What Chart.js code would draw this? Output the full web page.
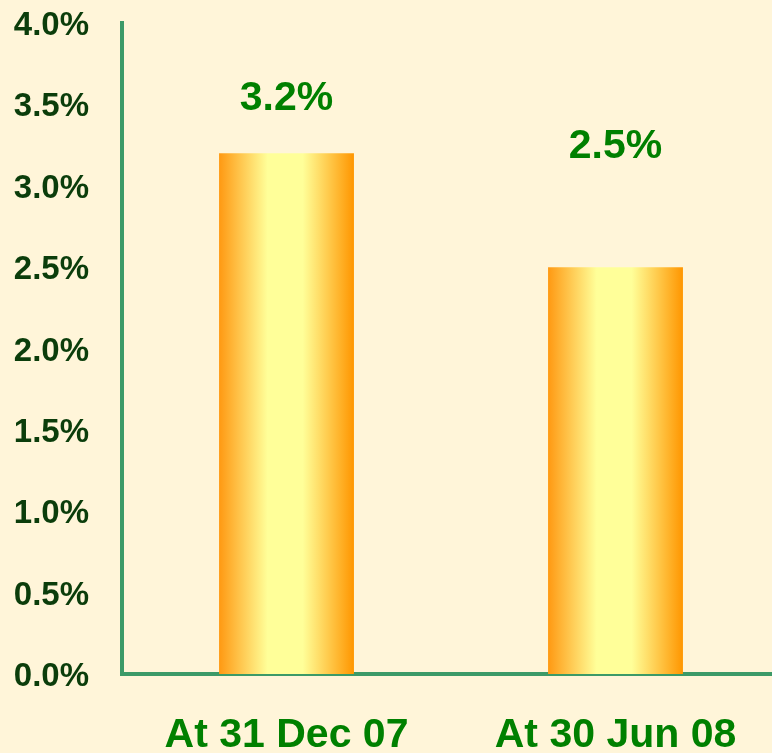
<!DOCTYPE html>
<html>
<head>
<meta charset="utf-8">
<script src="https://cdn.jsdelivr.net/npm/chart.js@4"></script>
<style>
  html, body { margin: 0; padding: 0; background: #fff5d9; overflow: hidden; }
  #wrap { width: 780px; height: 753px; }
</style>
</head>
<body>
<div id="wrap"><canvas id="ratioChart" width="780" height="753"></canvas></div>
<script>
// Chart values
const categories = ['At 31 Dec 07', 'At 30 Jun 08'];
const ratioValues = [3.2, 2.5];
const valueLabels = ['3.2%', '2.5%'];
const labelOffsets = [55, 120]; // distance of value label above bar top (px)

const GREEN_AXIS = '#3c9a68';
const BAR_PCT = 0.41;
const FONT = '"Liberation Sans", Arial, sans-serif';

// horizontal orange-yellow-orange gradient for each bar
const barGradient = (context) => {
    const chart = context.chart;
    const xScale = chart.scales.x;
    if (!xScale || !chart.chartArea) return '#ffcc55';
    const cx = xScale.getPixelForValue(context.dataIndex);
    const w = xScale.width / categories.length * BAR_PCT;
    const g = chart.ctx.createLinearGradient(cx - w / 2, 0, cx + w / 2, 0);
    g.addColorStop(0, '#ff9912');
    g.addColorStop(0.36, '#ffff99');
    g.addColorStop(0.62, '#ffff99');
    g.addColorStop(1, '#ff9600');
    return g;
};

// draws the green percentage labels above the bars
const valueLabelPlugin = {
    id: 'valueLabels',
    afterDatasetsDraw(chart) {
        const ctx = chart.ctx;
        const meta = chart.getDatasetMeta(0);
        ctx.save();
        ctx.font = 'bold 41px ' + FONT;
        ctx.fillStyle = '#008000';
        ctx.textAlign = 'center';
        ctx.textBaseline = 'middle';
        meta.data.forEach((bar, i) => {
            ctx.fillText(valueLabels[i], bar.x, bar.y - labelOffsets[i]);
        });
        ctx.restore();
    }
};

const chart = new Chart(document.getElementById('ratioChart'), {
    type: 'bar',
    data: {
        labels: categories,
        datasets: [{
            data: ratioValues,
            backgroundColor: barGradient,
            borderWidth: 0,
            barPercentage: BAR_PCT,
            categoryPercentage: 1
        }]
    },
    options: {
        responsive: false,
        animation: false,
        layout: { padding: { top: 23, right: 0, left: 0, bottom: 0 } },
        plugins: {
            legend: { display: false },
            tooltip: { enabled: false }
        },
        scales: {
            x: {
                grid: { display: false, drawTicks: false },
                border: { color: GREEN_AXIS, width: 4 },
                ticks: {
                    color: '#008000',
                    padding: 37,
                    maxRotation: 0,
                    font: { family: FONT, size: 41, weight: 'bold' }
                },
                afterFit(scale) { scale.height = 79; }
            },
            y: {
                min: 0,
                max: 4,
                grid: { display: false, drawTicks: false },
                border: { color: GREEN_AXIS, width: 4 },
                ticks: {
                    stepSize: 0.5,
                    color: '#0b3d0b',
                    padding: 33,
                    labelOffset: 3,
                    callback: (v) => v.toFixed(1) + '%',
                    font: { family: FONT, size: 33, weight: 'bold' }
                },
                afterFit(scale) {
                    scale.width = 122;
                    scale.paddingTop = 0;
                    scale.paddingBottom = 0;
                }
            }
        }
    },
    plugins: [valueLabelPlugin]
});
</script>
</body>
</html>
